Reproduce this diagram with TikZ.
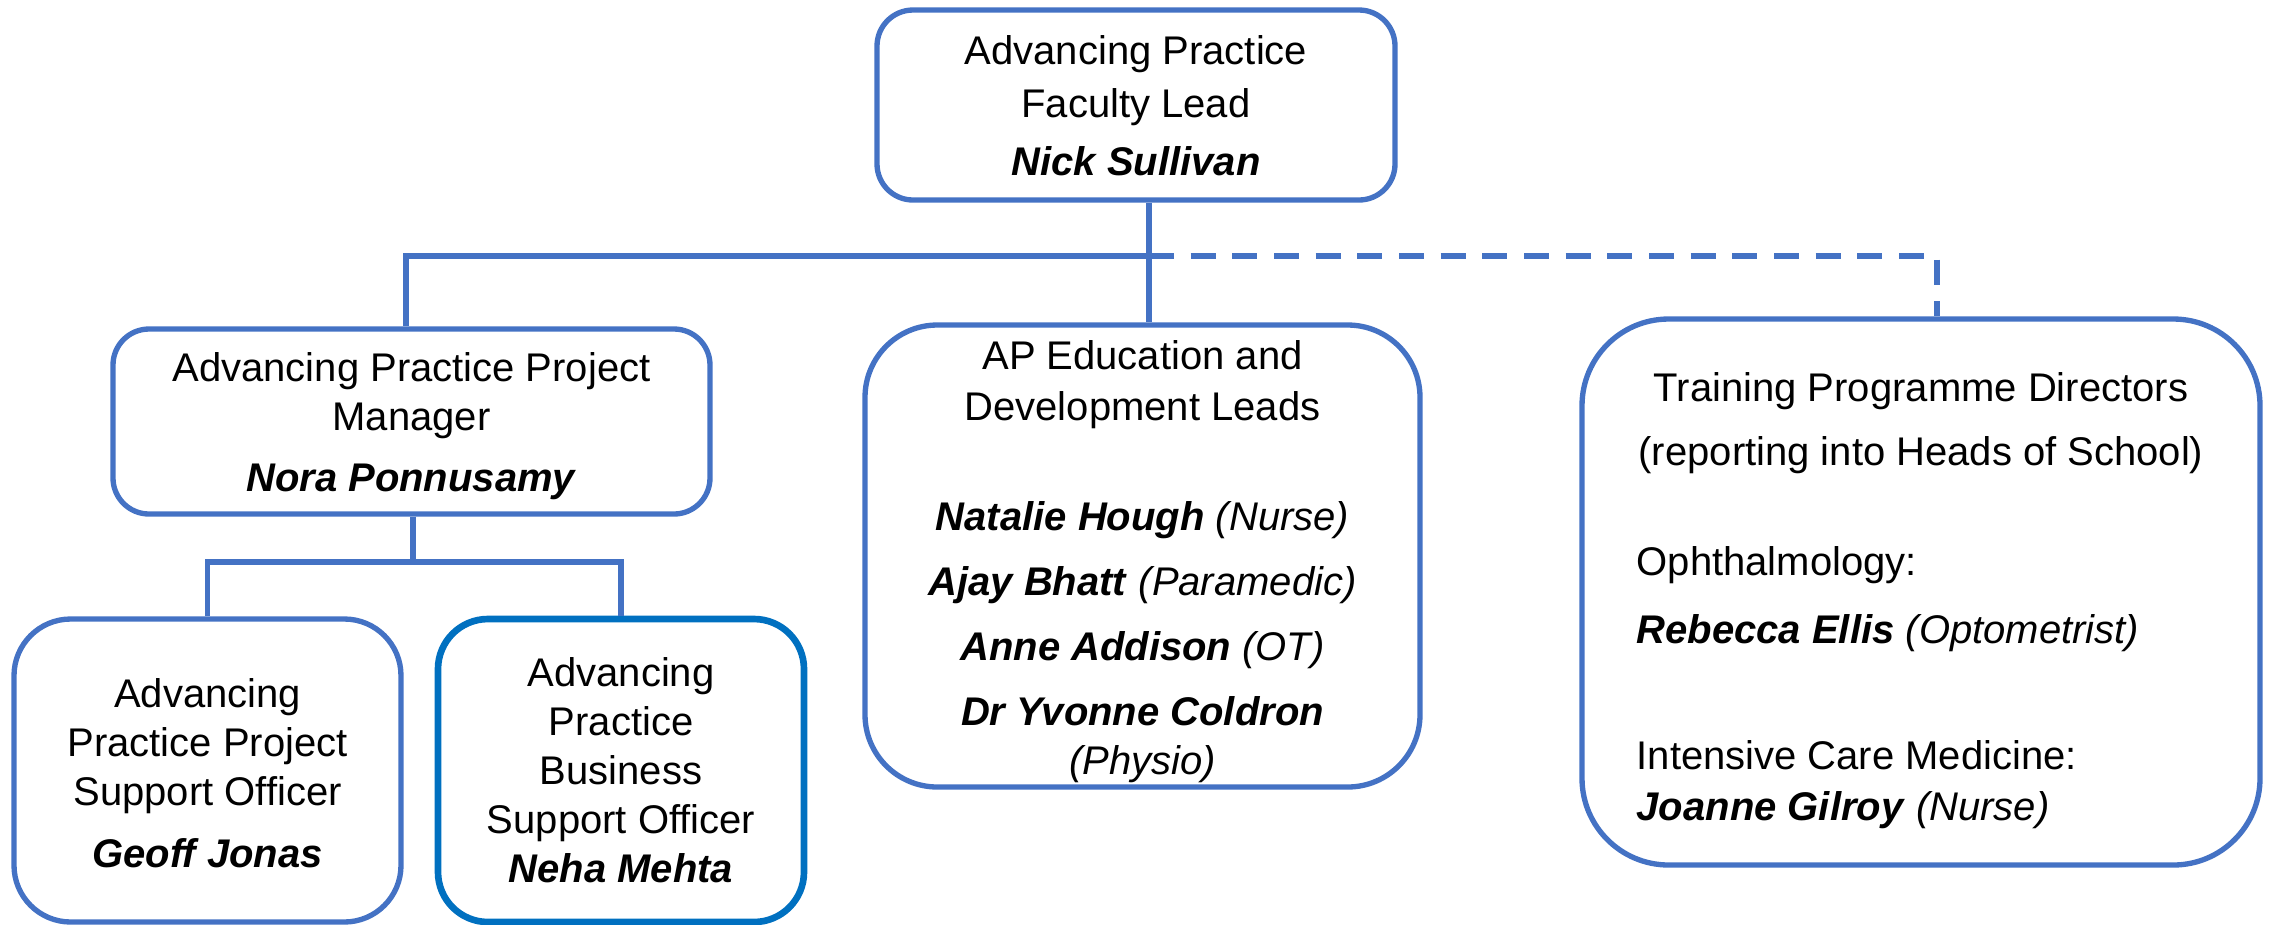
\documentclass[tikz,border=0pt]{standalone}
\usepackage{fontspec}
\setmainfont{Liberation Sans}
\usetikzlibrary{calc}
\definecolor{obox}{HTML}{4472C4}
\definecolor{oboxdark}{HTML}{0070C0}
\newcommand{\pname}[1]{\textbf{\textit{#1}}}
\tikzset{
  box/.style={draw=obox, line width=1.6pt, rectangle, inner sep=0pt},
  txt/.style={align=center, inner sep=0pt, font=\fontsize{12}{14.7}\selectfont, text=black},
  conn/.style={draw=obox, line width=1.6pt},
  dconn/.style={conn, dash pattern=on 7.5pt off 5pt},
}
\begin{document}
\begin{tikzpicture}[x=0.3pt,y=-0.3pt]
\useasboundingbox (0,0) rectangle (2272,924);

\node[box, minimum width=155.4pt, minimum height=57pt, rounded corners=10.8pt] (top) at (1136,105) {};
\node[txt] (toptext) at ($(top.center)+(0,1)$)
  {Advancing Practice\\[1.2pt]Faculty Lead\\[2.7pt]\pname{Nick Sullivan}};

\node[box, minimum width=179.1pt, minimum height=55.5pt, rounded corners=10.8pt] (np) at (411.5,421.5) {};
\node[txt] (nptext) at ($(np.center)+(0,5)$)
  {Advancing Practice Project\\Manager\\[3.6pt]\pname{Nora Ponnusamy}};

\node[box, minimum width=116.1pt, minimum height=90.9pt, rounded corners=17pt] (geoff) at (207.5,770.5) {};
\node[txt] (gefftext) at ($(geoff.center)+(0,3)$)
  {Advancing\\Practice Project\\Support Officer\\[3.9pt]\pname{Geoff Jonas}};

\node[box, draw=oboxdark, line width=2pt, minimum width=109.8pt, minimum height=90.9pt, rounded corners=15pt] (neha) at (621,770.5) {};
\node[txt] (nehatext) at (neha.center)
  {Advancing\\Practice\\Business\\Support Officer\\\pname{Neha Mehta}};

\node[box, minimum width=166.5pt, minimum height=138.6pt, rounded corners=21.7pt] (ap) at (1142.5,556) {};
\node[txt] (aptext) at ($(ap.center)+(0,6)$)
  {AP Education and\\[0.6pt]Development Leads\\[18.3pt]
   \pname{Natalie Hough} \textit{(Nurse)}\\[4.8pt]
   \pname{Ajay Bhatt} \textit{(Paramedic)}\\[4.8pt]
   \pname{Anne Addison} \textit{(OT)}\\[4.8pt]
   \pname{Dr Yvonne Coldron}\\\textit{(Physio)}};

\node[box, minimum width=203.4pt, minimum height=163.8pt, rounded corners=26pt] (tpd) at (1921,592) {};
\node[txt] (tpdtitle) at (1921,423)
  {Training Programme Directors\\[4.5pt](reporting into Heads of School)};
\node[txt, align=left, anchor=west] (tpdlist) at (1636,688)
  {Ophthalmology:\\[5.7pt]\pname{Rebecca Ellis} \textit{(Optometrist)}\\[23.1pt]
   Intensive Care Medicine:\\[0.6pt]\pname{Joanne Gilroy} \textit{(Nurse)}};

\coordinate (j) at (1149,256);
\coordinate (lc) at (406,256);
\coordinate (rc) at (1937,256);
\coordinate (nj) at (413,562);

\draw[conn] (top.south -| j) -- (ap.north -| j);
\draw[conn] (j) -- (lc) -- (np.north -| lc);
\draw[dconn] (j) -- (rc) -- (tpd.north -| rc);
\draw[conn] (np.south -| nj) -- (nj);
\draw[conn] (geoff.north) -- (geoff.north |- nj) -- (neha.north |- nj) -- (neha.north);
\end{tikzpicture}
\end{document}
